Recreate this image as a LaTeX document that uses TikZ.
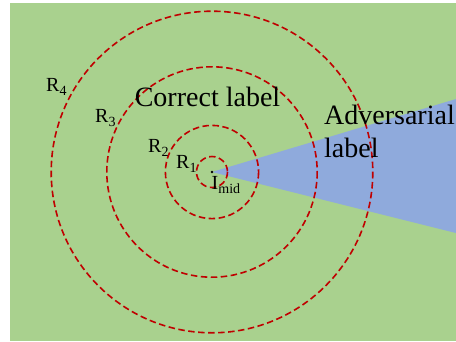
\documentclass[tikz,border=0pt]{standalone}
\usepackage{fontspec}
\setmainfont{Liberation Serif}
\usepackage{tikz}
\definecolor{mField}{HTML}{A9D18E}
\definecolor{mAdv}{HTML}{8FAADC}
\definecolor{mRing}{HTML}{C00000}
\newcommand{\lowidx}[1]{\raisebox{-4pt}{\fontsize{14}{14}\selectfont #1}}
\tikzset{
  ring/.style ={mRing,line width=1.6pt,dash pattern=on 6.5pt off 3.5pt},
  rlab/.style ={anchor=base west,inner sep=0pt,font=\fontsize{20}{24}\selectfont},
  biglab/.style={inner sep=0pt,font=\fontsize{28}{33}\selectfont},
}

\begin{document}
\begin{tikzpicture}[x=1pt,y=-1pt]
  \useasboundingbox (0,0) rectangle (456,341);
  % ---- background field ----
  \fill[mField] (10,3) rectangle (456,341);
  \begin{scope}
    \clip (10,3) rectangle (456,341);
    % adversarial wedge
    \coordinate (imid) at (212,172);
    \fill[mAdv] (imid) -- (456,99) -- (456,233) -- cycle;
    % rings
    \draw[ring] (imid) circle (15.5);
    \draw[ring] (imid) circle (46.6);
    \draw[ring] (imid) circle (105.2);
    \draw[ring] (imid) circle (160.8);
    % labels
    \node[biglab,anchor=base] (corr) at (207.5,106) {Correct label};
    \node[biglab,anchor=base west,align=left] (adv) at (324,157) {Adversarial\\label};
  \end{scope}
  \fill (imid) circle (1.4);
  \node[rlab] (r4) at (46,91) {R\lowidx{4}};
  \node[rlab] (r3) at (95,122.5) {R\lowidx{3}};
  \node[rlab] (r2) at (148,152.5) {R\lowidx{2}};
  \node[rlab] (r1) at (176,168) {R\lowidx{1}};
  \node[rlab] (mid) at (211.5,189) {I\lowidx{mid}};
\end{tikzpicture}
\end{document}
